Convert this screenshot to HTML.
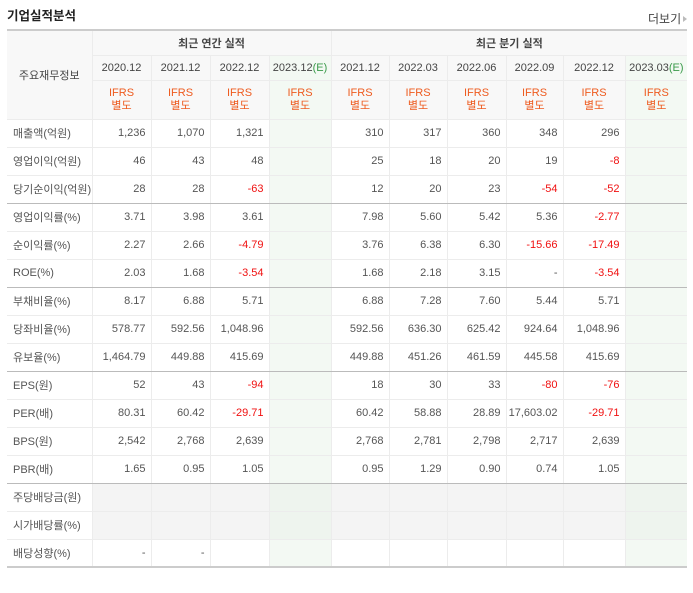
<!DOCTYPE html>
<html><head><meta charset="utf-8"><style>
body{margin:0;width:693px;height:593px;background:#fff;font-family:"Liberation Sans","Noto Sans CJK KR",sans-serif;position:relative;overflow:hidden}
.title{position:absolute;left:7px;top:5px;font-size:12.5px;font-weight:bold;color:#222}
.more{position:absolute;left:648px;top:10px;font-size:12px;color:#444}
.more span{display:inline-block;width:0;height:0;border-left:4px solid #bbb;border-top:3px solid transparent;border-bottom:3px solid transparent;margin-left:2px;vertical-align:1px}
table{position:absolute;left:7px;top:29px;border-collapse:collapse;table-layout:fixed;width:680px;font-size:11px;color:#555}
td,th{border:1px solid #ececec;padding:0;overflow:hidden;white-space:nowrap}
table{border-top:2px solid #ccc;border-bottom:2px solid #ccc}
th{font-weight:normal;background:#f8f8f8;color:#444;text-align:center;font-size:11px}
th.grp{font-weight:bold;color:#444}
td{text-align:right;padding-right:5px;height:28px;box-sizing:border-box}
td.lbl{text-align:left;padding-left:6px;color:#555;border-left:none}
.hd1{height:25px}.hd2{height:25px}.hd3{height:39px}
.ifrs{color:#ee5b1f;line-height:13px}
.est{background:#f3f9f3}
.e{color:#3a9a4a}
.neg{color:#f01010}
.gray td:not(.lbl){background:#f4f4f4}
.gray td.est{background:#eef4ee}
tr.sep td{border-bottom:1px solid #bbb}
.vl{border-left:1px solid #ccc}
th:first-child,td:first-child{border-left:none}
th:last-child,td:last-child{border-right:none}
</style></head><body>
<div class="title">기업실적분석</div>
<div class="more">더보기<span></span></div>
<table>
<colgroup><col style="width:85px"><col style="width:59px"><col style="width:59px"><col style="width:59px"><col style="width:62px"><col style="width:58px"><col style="width:58px"><col style="width:59px"><col style="width:57px"><col style="width:62px"><col style="width:62px"></colgroup>
<tr class="hd1"><th rowspan="3">주요재무정보</th><th colspan="4" class="grp vl">최근 연간 실적</th><th colspan="6" class="grp vl">최근 분기 실적</th></tr>
<tr class="hd2"><th class="vl">2020.12</th><th>2021.12</th><th>2022.12</th><th class="est">2023.12<span class="e">(E)</span></th><th class="vl">2021.12</th><th>2022.03</th><th>2022.06</th><th>2022.09</th><th>2022.12</th><th class="est">2023.03<span class="e">(E)</span></th></tr>
<tr class="hd3"><th class="ifrs vl">IFRS<br>별도</th><th class="ifrs">IFRS<br>별도</th><th class="ifrs">IFRS<br>별도</th><th class="ifrs est">IFRS<br>별도</th><th class="ifrs vl">IFRS<br>별도</th><th class="ifrs">IFRS<br>별도</th><th class="ifrs">IFRS<br>별도</th><th class="ifrs">IFRS<br>별도</th><th class="ifrs">IFRS<br>별도</th><th class="ifrs est">IFRS<br>별도</th></tr>
<tbody id="body"></tbody>
</table>
<script>
const labels=["매출액(억원)","영업이익(억원)","당기순이익(억원)","영업이익률(%)","순이익률(%)","ROE(%)","부채비율(%)","당좌비율(%)","유보율(%)","EPS(원)","PER(배)","BPS(원)","PBR(배)","주당배당금(원)","시가배당률(%)","배당성향(%)"];
const annual=[["1,236","1,070","1,321"],["46","43","48"],["28","28","-63"],["3.71","3.98","3.61"],["2.27","2.66","-4.79"],["2.03","1.68","-3.54"],["8.17","6.88","5.71"],["578.77","592.56","1,048.96"],["1,464.79","449.88","415.69"],["52","43","-94"],["80.31","60.42","-29.71"],["2,542","2,768","2,639"],["1.65","0.95","1.05"],["","",""],["","",""],["-","-",""]];
const quarterly=[["310","317","360","348","296"],["25","18","20","19","-8"],["12","20","23","-54","-52"],["7.98","5.60","5.42","5.36","-2.77"],["3.76","6.38","6.30","-15.66","-17.49"],["1.68","2.18","3.15","-","-3.54"],["6.88","7.28","7.60","5.44","5.71"],["592.56","636.30","625.42","924.64","1,048.96"],["449.88","451.26","461.59","445.58","415.69"],["18","30","33","-80","-76"],["60.42","58.88","28.89","17,603.02","-29.71"],["2,768","2,781","2,798","2,717","2,639"],["0.95","1.29","0.90","0.74","1.05"],["","","","",""],["","","","",""],["","","","",""]];
const sepAfter=[2,5,8,12];
const body=document.getElementById('body');
labels.forEach((lab,i)=>{
  const tr=document.createElement('tr');
  
  
  if(sepAfter.includes(i))tr.className='sep';
  if(i===13||i===14)tr.className+=' gray';
  const cell=(txt,cls)=>{const td=document.createElement('td');td.className=cls||'';td.textContent=txt;if(txt.startsWith('-')&&txt.length>1)td.className+=' neg';tr.appendChild(td);return td;};
  const l=cell(lab,'lbl');
  
  
  annual[i].forEach((v,j)=>{const c=cell(v,j===0?'vl':'');});
  const e1=cell('','est');
  
  
  quarterly[i].forEach((v,j)=>{const c=cell(v,j===0?'vl':'');});
  const e2=cell('','est');
  
  
  body.appendChild(tr);
});
</script>
</body></html>
